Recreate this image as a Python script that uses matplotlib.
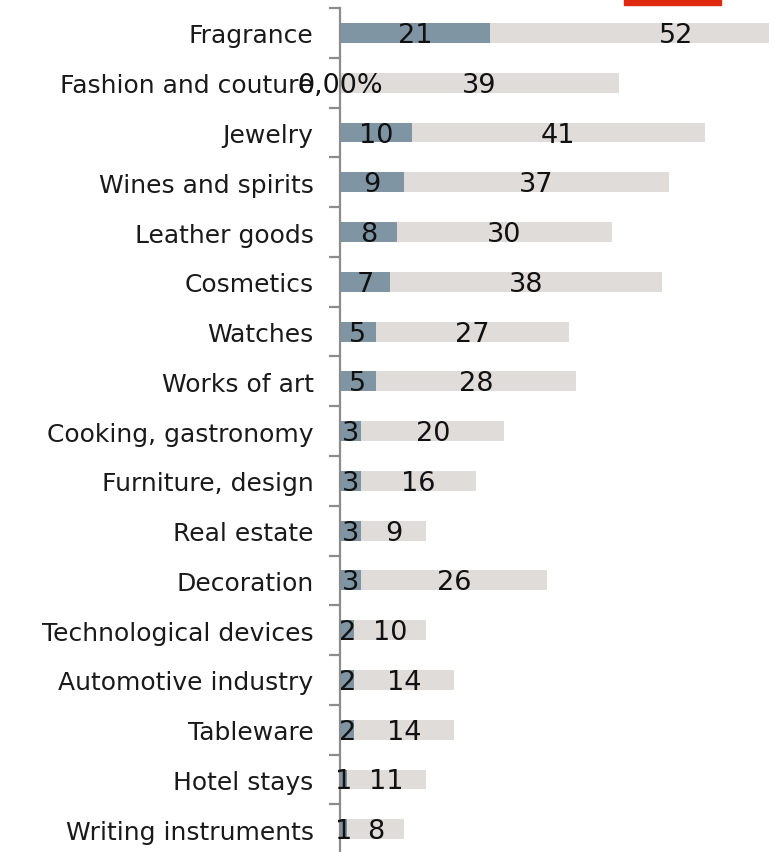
import matplotlib
matplotlib.use("Agg")
import matplotlib.pyplot as plt
from matplotlib.patches import Rectangle

categories = [
    "Fragrance", "Fashion and couture", "Jewelry", "Wines and spirits",
    "Leather goods", "Cosmetics", "Watches", "Works of art",
    "Cooking, gastronomy", "Furniture, design", "Real estate", "Decoration",
    "Technological devices", "Automotive industry", "Tableware",
    "Hotel stays", "Writing instruments",
]
first_values = [21, 0, 10, 9, 8, 7, 5, 5, 3, 3, 3, 3, 2, 2, 2, 1, 1]
second_values = [52, 39, 41, 37, 30, 38, 27, 28, 20, 16, 9, 26, 10, 14, 14, 11, 8]
first_labels = ["21", "0,00%", "10", "9", "8", "7", "5", "5", "3", "3", "3", "3",
                "2", "2", "2", "1", "1"]

BLUE = "#7F95A3"
GREY = "#E0DCDA"
AXIS = "#8C8C8C"
FONT = "DejaVu Sans"

W, H = 774, 853
fig = plt.figure(figsize=(W / 100, H / 100), dpi=100)
left, right = 340, 769
top, bottom = 9.1, 855.1
ax = fig.add_axes([left / W, (H - bottom) / H, (right - left) / W, (bottom - top) / H])

ypos = list(range(len(categories)))
ax.barh(ypos, first_values, height=0.4, color=BLUE, zorder=2)
ax.barh(ypos, second_values, left=first_values, height=0.4, color=GREY, zorder=2)

for y, a, b, lab in zip(ypos, first_values, second_values, first_labels):
    ax.text(a / 2, y + 0.04, lab, ha="center", va="center", fontsize=19.5,
            family=FONT, color="#111111", zorder=3)
    ax.text(a + b / 2, y + 0.04, str(b), ha="center", va="center", fontsize=19.5,
            family=FONT, color="#111111", zorder=3)

ax.set_xlim(0, 60)
ax.set_ylim(len(categories) - 0.5, -0.5)

for s in ["top", "right", "bottom"]:
    ax.spines[s].set_visible(False)
ax.spines["left"].set_color(AXIS)
ax.spines["left"].set_linewidth(1.6)
ax.set_xticks([])

ax.set_yticks(ypos)
ax.set_yticklabels(categories, family=FONT, fontsize=18, color="#1a1a1a")
ax.tick_params(axis="y", which="major", length=0, pad=19)
ax.set_yticks([i - 0.5 for i in range(len(categories) + 1)], minor=True)
ax.tick_params(axis="y", which="minor", length=8, width=1.6, color=AXIS, direction="out")

# accent strip above the plot
fig.patches.append(Rectangle((624 / W, (H - 6) / H), 97 / W, 6 / H,
                             transform=fig.transFigure, color="#E02A10", zorder=5))

fig.savefig("out.png", dpi=100)
